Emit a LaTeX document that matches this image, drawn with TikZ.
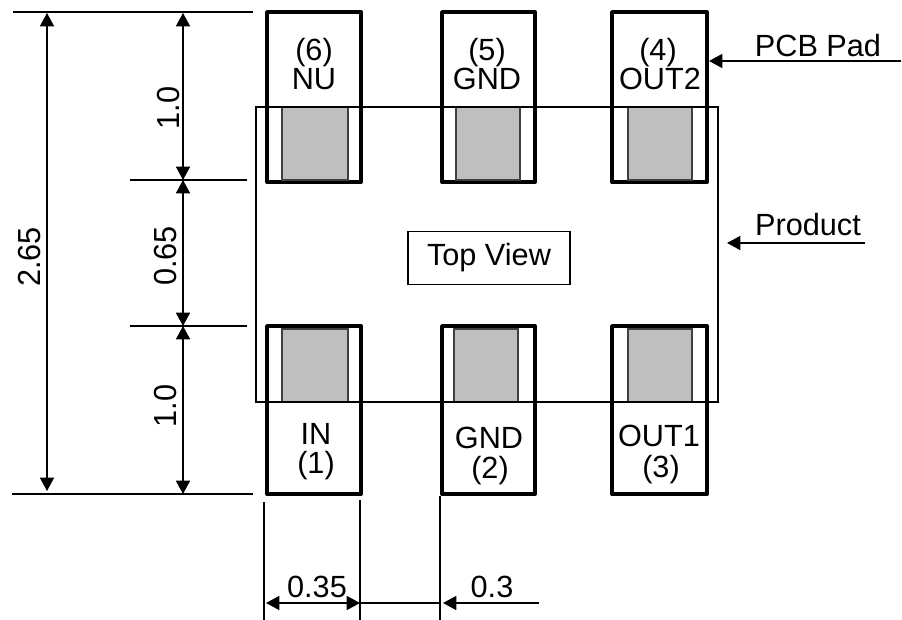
\documentclass[tikz,border=0pt]{standalone}
\usepackage{fontspec}
\setmainfont{Liberation Sans}
\usetikzlibrary{arrows.meta}
\tikzset{
  padbox/.style={draw=black,line width=2.9pt,line join=round,fill=white},
  greybox/.style={draw=black!75,line width=1.1pt,fill=black!25},
  thinbox/.style={draw=black,line width=1.1pt},
  dimline/.style={draw=black,line width=1.2pt},
  tip/.tip={Triangle[length=10pt,width=10.5pt]},
  dimtip/.style={-tip,dimline},
  dimboth/.style={tip-tip,dimline},
  lbl/.style={inner sep=0pt,anchor=base,font=\fontsize{23pt}{23pt}\selectfont},
  rlbl/.style={inner sep=0pt,anchor=center,rotate=90,font=\fontsize{23pt}{23pt}\selectfont},
}
\begin{document}
\begin{tikzpicture}[x=0.75pt,y=-0.75pt]
\useasboundingbox (0,0) rectangle (902,620);
% PCB pads
\foreach \x/\w in {267/361,442/535,612/707}{
  \draw[padbox] (\x,12) rectangle (\w,182);
  \draw[padbox] (\x,326) rectangle (\w,494);
}
% product terminals
\draw[greybox] (282,107) rectangle (348,180);
\draw[greybox] (456,107) rectangle (520,180);
\draw[greybox] (628,107) rectangle (692,180);
\draw[greybox] (282,329) rectangle (348,402);
\draw[greybox] (454,329) rectangle (518,402);
\draw[greybox] (628,329) rectangle (692,402);
% product outline
\draw[thinbox] (256,107) rectangle (718,402);
% centre label
\node[thinbox,minimum width=121.5pt,minimum height=39.5pt,inner sep=0pt,font=\fontsize{23pt}{23pt}\selectfont] (view) at (489,258) {Top View};
% pin labels
\node[lbl] (p6) at (314,61) {(6)};
\node[lbl] (n6) at (314,90) {NU};
\node[lbl] (p5) at (487,61) {(5)};
\node[lbl] (n5) at (487,90) {GND};
\node[lbl] (p4) at (658,61) {(4)};
\node[lbl] (n4) at (660,90) {OUT2};
\node[lbl] (n1) at (316,444) {IN};
\node[lbl] (p1) at (316,473) {(1)};
\node[lbl] (n2) at (489,448) {GND};
\node[lbl] (p2) at (490,478) {(2)};
\node[lbl] (n3) at (659,446) {OUT1};
\node[lbl] (p3) at (661,477) {(3)};
% left extension lines
\coordinate (a1) at (13,12);   \coordinate (a2) at (253,12);
\coordinate (b1) at (130,180); \coordinate (b2) at (247,180);
\coordinate (c1) at (130,326); \coordinate (c2) at (247,326);
\coordinate (d1) at (12,494);  \coordinate (d2) at (253,494);
\draw[dimline] (a1)--(a2);
\draw[dimline] (b1)--(b2);
\draw[dimline] (c1)--(c2);
\draw[dimline] (d1)--(d2);
% left dimensions
\draw[dimboth] (47,13)--(47,491);
\draw[dimboth] (183,13)--(183,180);
\draw[dimboth] (183,180)--(183,326);
\draw[dimboth] (183,326)--(183,494);
\node[rlbl,yscale=1.04] (t265) at (30,257) {2.65};
\node[rlbl,yscale=1.04] (t065) at (166,256) {0.65};
\node[rlbl,yscale=1.04] (t10a) at (169,108) {1.0};
\node[rlbl,yscale=1.04] (t10b) at (166,406) {1.0};
% bottom dimensions
\draw[dimline] (264,502)--(264,620);
\draw[dimline] (360,500)--(360,620);
\draw[dimline] (440,496)--(440,620);
\draw[dimboth] (266,603)--(360,603);
\draw[dimline] (360,603)--(440,603);
\draw[dimtip] (539,603)--(443,603);
\node[lbl] (t035) at (317,597) {0.35};
\node[lbl] (t03) at (492,597) {0.3};
% callouts
\draw[dimtip] (901,61)--(709,61);
\draw[dimtip] (865,243)--(727,243);
\node[lbl] (pcb) at (818,57) {PCB Pad};
\node[lbl] (prod) at (808,235) {Product};
\end{tikzpicture}
\end{document}
